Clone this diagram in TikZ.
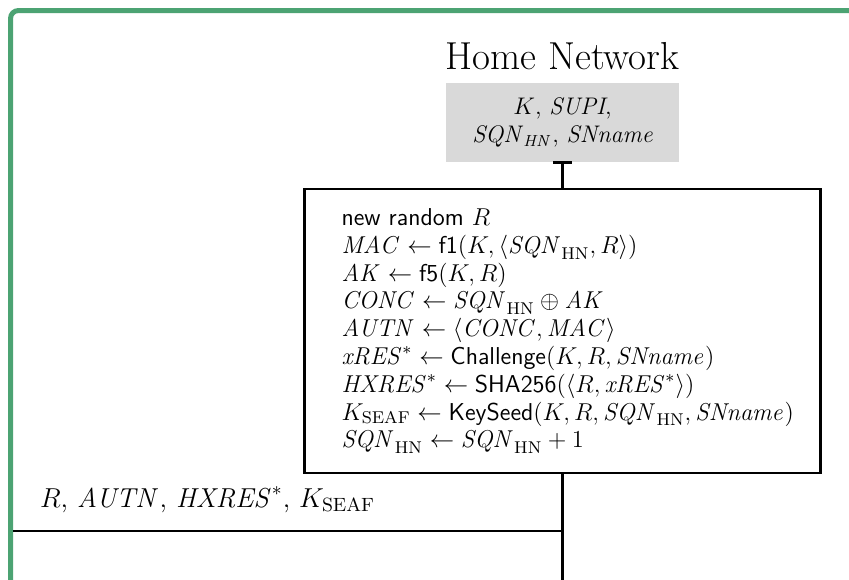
\documentclass[tikz,border=0pt]{standalone}
\usepackage{fix-cm}
\usepackage{amsmath}
\usepackage{amssymb}
\usetikzlibrary{positioning}
\definecolor{framegreen}{RGB}{76,163,115}
\definecolor{keygray}{RGB}{217,217,217}

\begin{document}
\begin{tikzpicture}[x=0.5pt, y=-0.5pt,
    party/.style={font=\fontsize{19.5}{22}\selectfont},
    keys/.style={rectangle, fill=keygray, minimum width=116.5pt, minimum height=39.5pt,
                 align=center, font=\fontsize{12}{14}\selectfont},
    compute/.style={rectangle, draw=black, line width=1.2pt, minimum width=258pt,
                    minimum height=142pt, text width=221pt, inner xsep=18.5pt,
                    align=left, font=\fontsize{12.2}{13.9}\selectfont},
    msg/.style={anchor=base west, font=\fontsize{13.7}{17}\selectfont},
    wire/.style={line width=1.2pt}
]
    \useasboundingbox (0,0) rectangle (849,579);
    \clip (0,0) rectangle (849,579);

    % Frame
    \draw[framegreen, line width=2.5pt, rounded corners=4pt] (10.5,900) -- (10.5,10.5) -- (1000,10.5);

    % Home network
    \node[keys] (hnkeys) at (562.5,122.5) {$K$, \textit{SUPI},\\ \textit{SQN}$_{\mathit{HN}}$, \textit{SNname}};
    \node[party, above=3pt of hnkeys] (hn) {Home Network};

    % Computation
    \node[compute, below=12.75pt of hnkeys] (hncomp) {%
        \textsf{new random} $R$\\
        $\mathit{MAC} \leftarrow \textsf{f1}(K, \langle \mathit{SQN}_{\mathrm{HN}}, R\rangle)$\\
        $\mathit{AK} \leftarrow \textsf{f5}(K, R)$\\
        $\mathit{CONC} \leftarrow \mathit{SQN}_{\mathrm{HN}} \oplus \mathit{AK}$\\
        $\mathit{AUTN} \leftarrow \langle \mathit{CONC}, \mathit{MAC}\rangle$\\
        $\mathit{xRES}^{*} \leftarrow \textsf{Challenge}(K, R, \mathit{SNname})$\\
        $\mathit{HXRES}^{*} \leftarrow \textsf{SHA256}(\langle R, \mathit{xRES}^{*}\rangle)$\\
        \mbox{$K_{\mathrm{SEAF}} \leftarrow \textsf{KeySeed}(K, R, \mathit{SQN}_{\mathrm{HN}}, \mathit{SNname})$}\\
        $\mathit{SQN}_{\mathrm{HN}} \leftarrow \mathit{SQN}_{\mathrm{HN}} + 1$};

    % Lifeline
    \draw[wire] ([xshift=-4.75pt]hnkeys.south) -- ([xshift=4.75pt]hnkeys.south);
    \draw[wire] (hnkeys.south) -- (hncomp.north);
    \coordinate (hnlife) at (hncomp.south |- 0,600);
    \draw[wire] (hncomp.south) -- (hnlife);

    % Message
    \coordinate (msgend) at (hncomp.south |- 0,531);
    \coordinate (msgstart) at (13,531);
    \draw[wire] (msgend) -- (msgstart);
    \node[msg] (msg) at (33,507) {$R$, $\mathit{AUTN}$, $\mathit{HXRES}^{*}$, $K_{\mathrm{SEAF}}$};

\end{tikzpicture}
\end{document}
